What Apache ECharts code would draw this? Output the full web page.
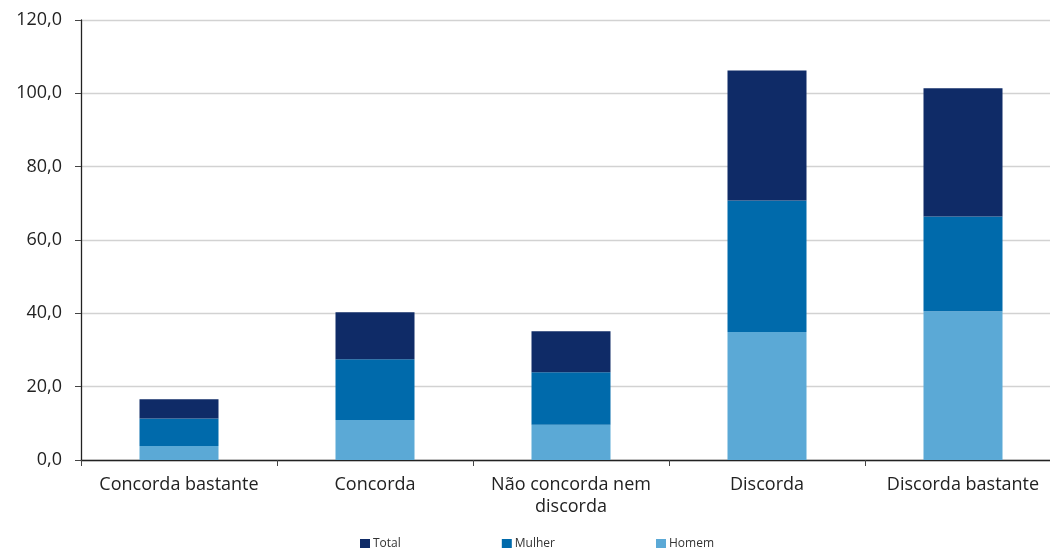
<!DOCTYPE html>
<html>
<head>
<meta charset="utf-8">
<script src="https://cdn.jsdelivr.net/npm/echarts@6/dist/echarts.min.js"></script>
<style>html,body{margin:0;padding:0;background:#fff;overflow:hidden}#c{width:1070px;height:548px}</style>
</head>
<body>
<div id="c"></div>
<script>
const categories = ['Concorda bastante', 'Concorda', 'Não concorda nem\ndiscorda', 'Discorda', 'Discorda bastante'];
const homem = [3.8, 10.9, 9.6, 34.9, 40.6];
const mulher = [7.5, 16.6, 14.3, 35.9, 25.8];
const total = [5.3, 12.8, 11.2, 35.4, 35.0];
const seriesNames = ['Total', 'Mulher', 'Homem'];
const yTicks = { min: 0, max: 120, interval: 20 };

const font = '"Open Sans", "Noto Sans", sans-serif';
const chart = echarts.init(document.getElementById('c'), null, { renderer: 'canvas' });
chart.setOption({
  animation: false,
  textStyle: { fontFamily: font },
  grid: { left: 81, top: 20, width: 980, height: 440, containLabel: false },
  legend: {
    data: seriesNames,
    left: 355, top: 533,
    itemWidth: 10, itemHeight: 10, itemGap: 101,
    icon: 'rect',
    textStyle: { fontSize: 12, color: '#333', fontFamily: font, padding: [0, 0, 0, -2] }
  },
  xAxis: {
    type: 'category',
    data: categories,
    axisLine: { lineStyle: { color: '#222', width: 1.3 } },
    axisTick: { show: true, length: 6, lineStyle: { color: '#444' } },
    axisLabel: { fontSize: 18, color: '#222', margin: 14, lineHeight: 22, interval: 0, fontFamily: font }
  },
  yAxis: {
    type: 'value',
    min: yTicks.min, max: yTicks.max, interval: yTicks.interval,
    axisLine: { show: true, lineStyle: { color: '#222', width: 1.3 } },
    axisTick: { show: true, length: 6, lineStyle: { color: '#444' } },
    splitLine: { lineStyle: { color: '#d2d2d2', width: 1.3 } },
    axisLabel: {
      fontSize: 18, color: '#222', margin: 19, fontFamily: font,
      formatter: v => v.toFixed(1).replace('.', ',')
    }
  },
  series: [
    { name: 'Homem', type: 'bar', stack: 's', data: homem, barWidth: 79, itemStyle: { color: '#5ba9d6' } },
    { name: 'Mulher', type: 'bar', stack: 's', data: mulher, barWidth: 79, itemStyle: { color: '#006aab' } },
    { name: 'Total', type: 'bar', stack: 's', data: total, barWidth: 79, itemStyle: { color: '#0f2b67' } }
  ]
});
</script>
</body>
</html>
